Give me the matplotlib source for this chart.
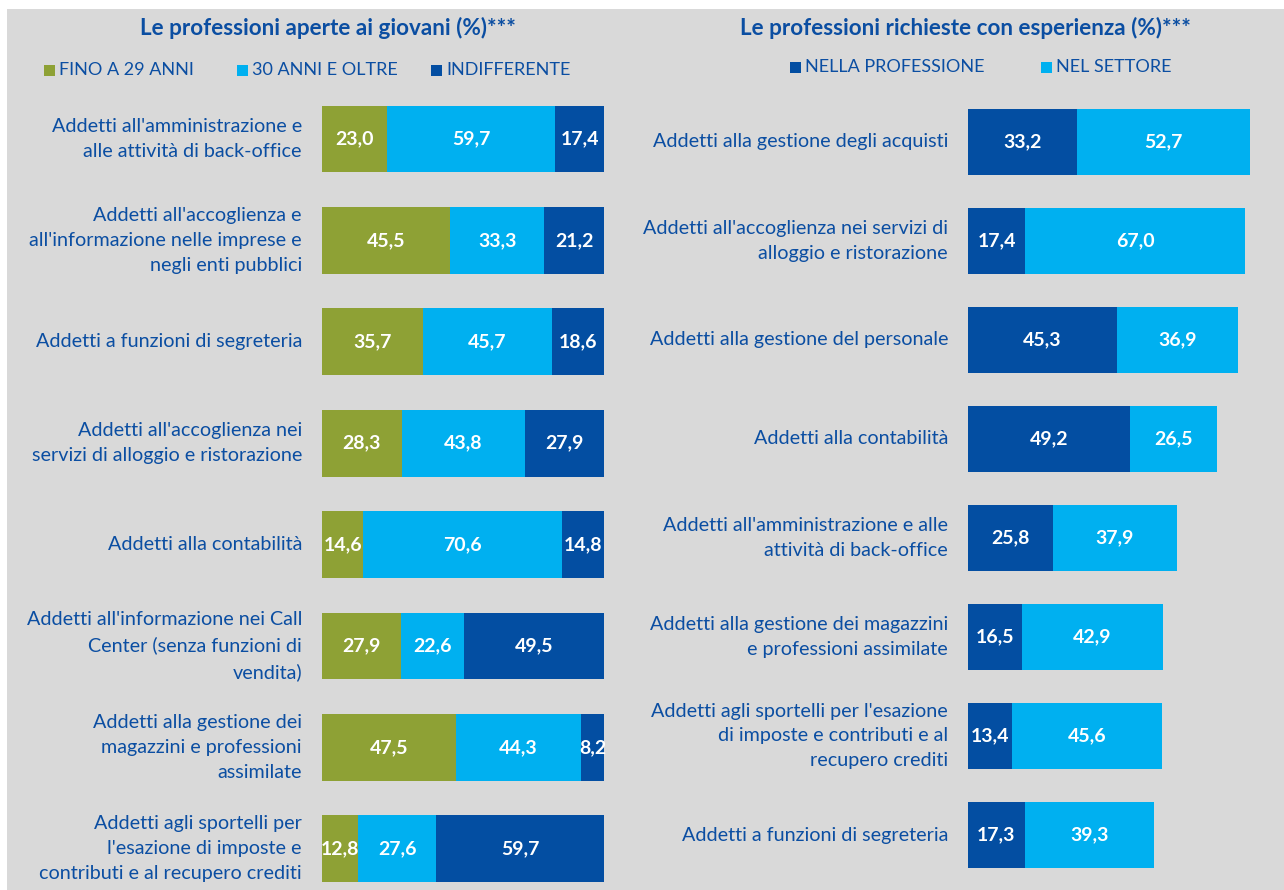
import numpy as np
import matplotlib.pyplot as plt
from matplotlib.patches import Rectangle

plt.rcParams['font.family'] = ['Lato', 'DejaVu Sans']

# colori
GREEN = '#8ea135'
CYAN = '#00b0f0'
DARK = '#034ea2'
TXT = '#0b4ea2'
BG = '#d9d9d9'

# pannello sinistro
left_cats = ["Addetti all'amministrazione e\nalle attività di back-office",
             "Addetti all'accoglienza e\nall'informazione nelle imprese e\nnegli enti pubblici",
             "Addetti a funzioni di segreteria",
             "Addetti all'accoglienza nei\nservizi di alloggio e ristorazione",
             "Addetti alla contabilità",
             "Addetti all'informazione nei Call\nCenter (senza funzioni di\nvendita)",
             "Addetti alla gestione dei\nmagazzini e professioni\nassimilate",
             "Addetti agli sportelli per\nl'esazione di imposte e\ncontributi e al recupero crediti"]
fino29 = [23.0, 45.5, 35.7, 28.3, 14.6, 27.9, 47.5, 12.8]
oltre30 = [59.7, 33.3, 45.7, 43.8, 70.6, 22.6, 44.3, 27.6]
indiff = [17.4, 21.2, 18.6, 27.9, 14.8, 49.5, 8.2, 59.7]
left_names = ["FINO A 29 ANNI", "30 ANNI E OLTRE", "INDIFFERENTE"]

# pannello destro
right_cats = ["Addetti alla gestione degli acquisti",
              "Addetti all'accoglienza nei servizi di\nalloggio e ristorazione",
              "Addetti alla gestione del personale",
              "Addetti alla contabilità",
              "Addetti all'amministrazione e alle\nattività di back-office",
              "Addetti alla gestione dei magazzini\ne professioni assimilate",
              "Addetti agli sportelli per l'esazione\ndi imposte e contributi e al\nrecupero crediti",
              "Addetti a funzioni di segreteria"]
professione = [33.2, 17.4, 45.3, 49.2, 25.8, 16.5, 13.4, 17.3]
settore = [52.7, 67.0, 36.9, 26.5, 37.9, 42.9, 45.6, 39.3]
right_names = ["NELLA PROFESSIONE", "NEL SETTORE"]

W, H = 1284, 890
fig = plt.figure(figsize=(W/100, H/100), dpi=100)
fig.patch.set_facecolor('white')
fig.patches.append(Rectangle((7/W, 0), 1, 881/H, transform=fig.transFigure,
                             facecolor=BG, edgecolor='none', zorder=-10))


def px_axes(x0, x1, ytop):
    # axes che va da ytop (pixel dall'alto) fino al fondo della figura
    return fig.add_axes([x0/W, 0, (x1-x0)/W, (H-ytop)/H])


def stacked(ax, cats, series, colors, lab_x):
    y = np.arange(len(cats))
    left = np.zeros(len(cats))
    for vals, c in zip(series, colors):
        vals = np.array(vals)
        ax.barh(y, vals, left=left, height=0.66, color=c, edgecolor='none')
        for yi, l, v in zip(y, left, vals):
            ax.text(l + v/2, yi, f"{v:.1f}".replace('.', ','), ha='center', va='center',
                    color='white', fontsize=14, fontweight='bold')
        left += vals
    for yi, c in zip(y, cats):
        ax.text(lab_x, yi, c, transform=ax.get_yaxis_transform(), ha='right', va='center',
                color=TXT, fontsize=14.2, linespacing=1.57)
    ax.set_xlim(0, 100)
    ax.axis('off')


# sinistra: 100% = 282 px, passo 101.4 px
axL = px_axes(322, 604, 88.3)
axL.set_ylim((H - 139)/101.4, -0.5)
stacked(axL, left_cats, [fino29, oltre30, indiff], [GREEN, CYAN, DARK], -20/282)

# destra: 1 punto = 3.283 px, passo 99 px
axR = px_axes(968, 968 + 328.3, 92.5)
axR.set_ylim((H - 142)/99, -0.5)
stacked(axR, right_cats, [professione, settore], [DARK, CYAN], -20/328.3)

# titoli
fig.text(328/W, 1 - 28/H, "Le professioni aperte ai giovani (%)***", ha='center', va='center',
         color=TXT, fontsize=16.2, fontweight='bold')
fig.text(965/W, 1 - 28/H, "Le professioni richieste con esperienza (%)***", ha='center', va='center',
         color=TXT, fontsize=16.2, fontweight='bold')

# legende
def legend_item(x, y, name, color):
    fig.patches.append(Rectangle((x/W, 1 - (y + 6)/H), 11/W, 11/H, transform=fig.transFigure,
                                 facecolor=color, edgecolor='none'))
    fig.text((x + 15)/W, 1 - y/H, name, ha='left', va='center', color=TXT, fontsize=13)

for x, n, c in zip([44, 237, 431], left_names, [GREEN, CYAN, DARK]):
    legend_item(x, 70, n, c)
for x, n, c in zip([790, 1041], right_names, [DARK, CYAN]):
    legend_item(x, 67, n, c)

fig.savefig('out.png', dpi=100, facecolor=fig.get_facecolor())
